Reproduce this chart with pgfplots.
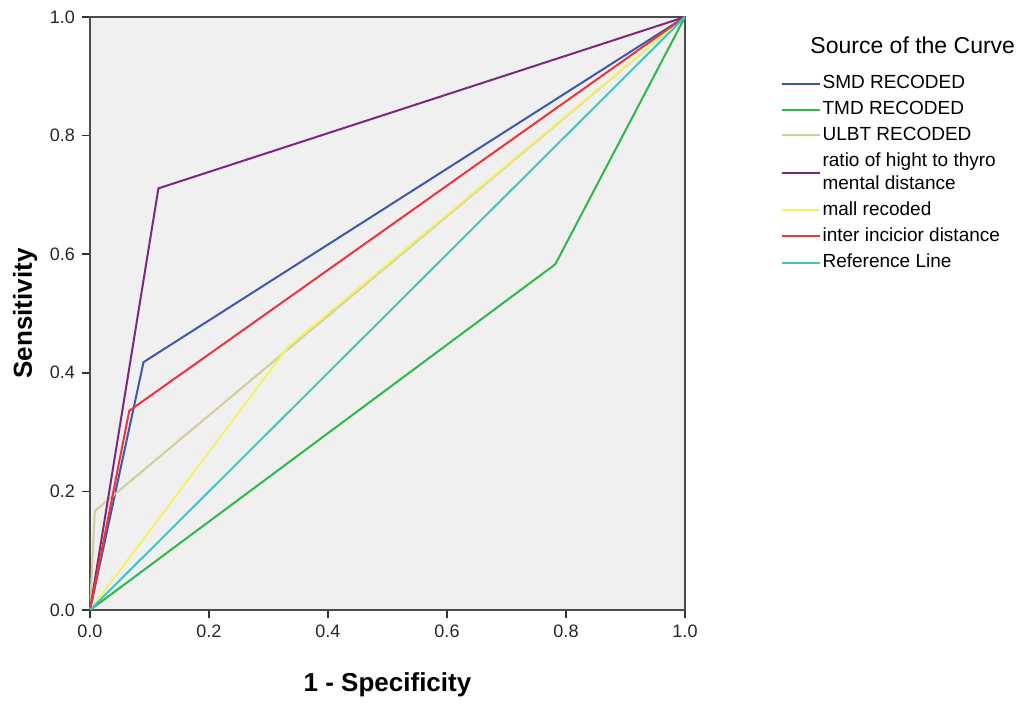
\documentclass[border=0pt]{standalone}
\usepackage{fontspec}
\setmainfont{Liberation Sans}
\usepackage{pgfplots}
\pgfplotsset{compat=1.18}
\usetikzlibrary{calc}

\definecolor{cSMD}{HTML}{3E58AC}
\definecolor{cTMD}{HTML}{2EB848}
\definecolor{cULBT}{HTML}{D3CE97}
\definecolor{cRatio}{HTML}{7C287D}
\definecolor{cMall}{HTML}{F5F26A}
\definecolor{cInter}{HTML}{EF3338}
\definecolor{cRef}{HTML}{48C2C5}
\definecolor{bgPlot}{HTML}{F0F0F0}

\begin{document}
\begin{tikzpicture}
\begin{axis}[
  scale only axis,
  width=297.5pt, height=296.5pt,
  xmin=0, xmax=1, ymin=0, ymax=1,
  clip mode=individual,
  axis background/.style={fill=bgPlot},
  axis line style={line width=1pt, draw=black!70},
  xtick={0,0.2,...,1.0}, ytick={0,0.2,...,1.0},
  tick align=outside, major tick length=4pt,
  tick style={line width=0.8pt, black!80},
  xtick pos=bottom, ytick pos=left,
  /pgf/number format/.cd, fixed, fixed zerofill, precision=1, assume math mode=true,
  /pgfplots/.cd,
  tick label style={font=\fontsize{9}{10}\selectfont, text=black!85},
  xlabel={\textbf{1 - Specificity}},
  ylabel={\textbf{Sensitivity}},
  every axis x label/.style={at={(axis description cs:0.5,-0.1265)}, anchor=center, font=\fontsize{13}{14}\selectfont},
  every axis y label/.style={at={(axis description cs:-0.109,0.5)}, rotate=90, anchor=center, font=\fontsize{13}{14}\selectfont},
  legend style={at={(axis description cs:1.16,0.905)}, anchor=north west, draw=none, fill=none,
    font=\fontsize{9.5}{11.5}\selectfont, inner sep=0pt, row sep=2.7pt,
    nodes={align=left, inner sep=1pt}},
  legend cell align=left,
  legend image code/.code={\draw[#1, line width=1pt] (0pt,0pt) -- (19pt,0pt);},
  every axis plot/.append style={line width=1pt},
]
\addplot[cSMD] coordinates {(0,0) (0.090,0.418) (1,1)};
\addlegendentry{SMD RECODED}
\addplot[cTMD] coordinates {(0,0) (0.782,0.583) (1,1)};
\addlegendentry{TMD RECODED}
\addplot[cULBT] coordinates {(0,0) (0.008,0.167) (1,1)};
\addlegendentry{ULBT RECODED}
\addplot[cRatio] coordinates {(0,0) (0.115,0.711) (1,1)};
\addlegendentry{ratio of hight to thyro\\mental distance}
\addplot[cMall] coordinates {(0,0) (0.333,0.444) (1,1)};
\addlegendentry{mall recoded}
\addplot[cInter] coordinates {(0,0) (0.066,0.336) (1,1)};
\addlegendentry{inter incicior distance}
\addplot[cRef] coordinates {(0,0) (1,1)};
\addlegendentry{Reference Line}
\node[anchor=west, font=\fontsize{11.5}{13}\selectfont] at (axis description cs:1.199,0.953) {Source of the Curve};
\end{axis}
\path ($(current axis.south west)+(-45pt,-44.5pt)$) rectangle ($(current axis.north east)+(174.5pt,8.5pt)$);
\end{tikzpicture}
\end{document}
